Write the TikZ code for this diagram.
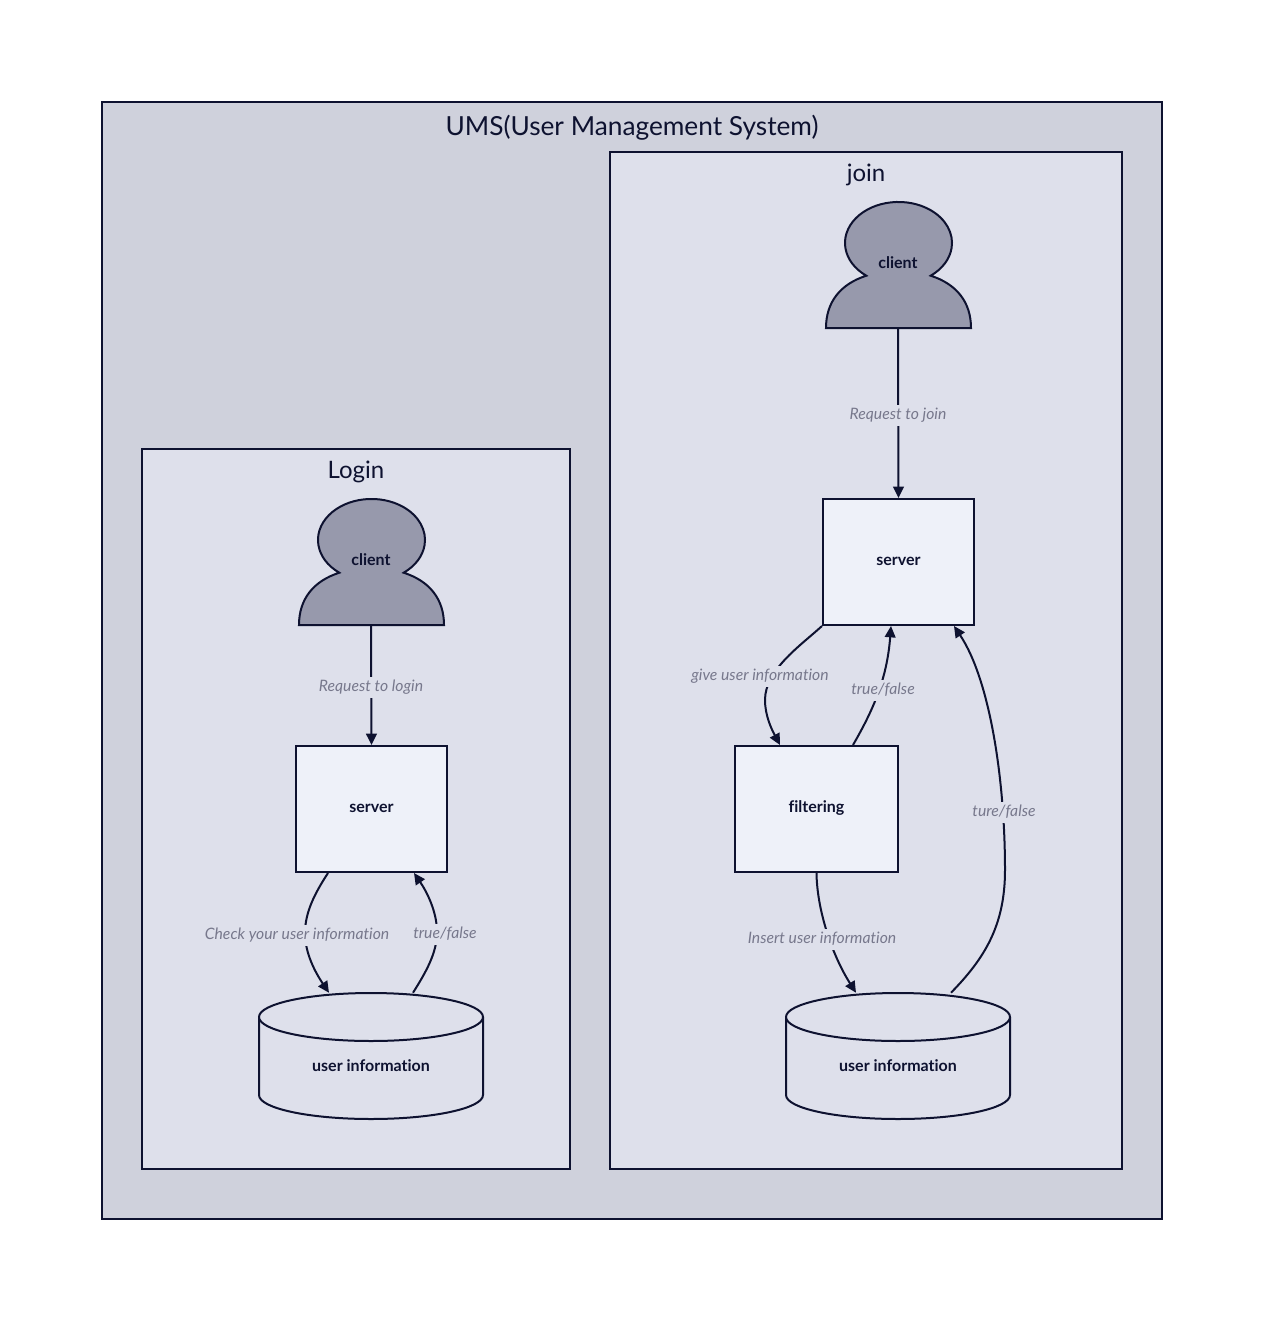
\documentclass[tikz,border=0pt]{standalone}
\usepackage{fontspec}
\setmainfont[Ligatures=NoCommon]{Lato}
\usepackage{xcolor}
\usetikzlibrary{calc,arrows.meta}
\definecolor{inkc}{HTML}{0E1230}
\definecolor{outerc}{HTML}{CFD1DC}
\definecolor{innerc}{HTML}{DEE0EB}
\definecolor{boxc}{HTML}{EEF1F9}
\definecolor{headc}{HTML}{9799AC}
\definecolor{grayc}{HTML}{77788C}
\tikzset{
  frameline/.style={draw=inkc, line width=1.5pt},
  outerbox/.style={frameline, fill=outerc, minimum width=795pt, minimum height=837.75pt},
  innerbox/.style={frameline, fill=innerc},
  srvbox/.style={frameline, fill=boxc, font=\fontsize{12}{14}\bfseries, text=inkc, text height=8.5pt, text depth=2.5pt, minimum height=94.5pt},
  ghost/.style={inner sep=0pt, minimum width=108.75pt, minimum height=94.5pt},
  dbghost/.style={inner sep=0pt, minimum width=168pt, minimum height=94.5pt},
  boldtxt/.style={font=\fontsize{12}{14}\bfseries, text=inkc, text height=8.5pt, text depth=2.5pt, inner sep=1pt},
  titletxt/.style={text=inkc, inner sep=1pt},
  flowtxt/.style={font=\fontsize{11.8}{14}\itshape, text=grayc, fill=innerc, text height=9pt, text depth=3pt, inner sep=2pt},
  flow/.style={draw=inkc, line width=1.5pt, -{Triangle[length=8.5pt,width=8pt]}},
  pics/clientfig/.style={code={
    \draw[frameline, fill=headc, line join=miter] (-72.5,0) .. controls (-72.5,-26) and (-58,-44) .. (-32.2,-52.3)
      arc[start angle=127, end angle=413, x radius=53.5, y radius=41]
      .. controls (58,-44) and (72.5,-26) .. (72.5,0) -- cycle;
  }},
  pics/dbfig/.style={code={
    \draw[frameline, fill=innerc] (-112,-102) -- (-112,-24)
      arc[start angle=180, end angle=0, x radius=112, y radius=24] -- (112,-102);
    \draw[frameline, fill=innerc] (-112,-102) arc[start angle=180, end angle=-180, x radius=112, y radius=24];
  }}
}
\begin{document}
\begin{tikzpicture}[x=0.75pt, y=-0.75pt]
  \useasboundingbox (0,0) rectangle (1264,1321);

  % System frame
  \node[outerbox] (ums) at (632,660) {};
  \node[titletxt, font=\fontsize{19.7}{24}\selectfont] (umstitle) at (632,128) {UMS(User Management System)};

  % Login frame
  \node[innerbox, minimum width=321pt, minimum height=540pt] (login) at (356,809) {};
  \node[titletxt, font=\fontsize{18}{22}\selectfont] (logintitle) at (356,472) {Login};

  % Join frame
  \node[innerbox, minimum width=384pt, minimum height=762.75pt] (join) at (866,660.5) {};
  \node[titletxt, font=\fontsize{18}{22}\selectfont] (jointitle) at (866,175) {join};

  % Login parts
  \pic at (371.5,625) {clientfig};
  \node[ghost] (clientL) at (371,562) {};
  \node[boldtxt] (clientLtxt) at (371,561) {client};
  \node[srvbox, minimum width=113.25pt] (serverL) at (371.5,809) {\raisebox{0.75pt}{server}};
  \pic at (371,1119) {dbfig};
  \node[dbghost] (dbL) at (371,1056) {};
  \node[boldtxt] (dbLtxt) at (371,1067) {user information};

  % Join parts
  \pic at (898.5,328) {clientfig};
  \node[ghost] (clientJ) at (898,265) {};
  \node[boldtxt] (clientJtxt) at (898,264) {client};
  \node[srvbox, minimum width=113.25pt] (serverJ) at (898.5,562) {\raisebox{0.75pt}{server}};
  \node[srvbox, minimum width=122.25pt] (filterJ) at (816.5,809) {\raisebox{0.75pt}{filtering}};
  \pic at (898,1119) {dbfig};
  \node[dbghost] (dbJ) at (898,1056) {};
  \node[boldtxt] (dbJtxt) at (898,1067) {user information};

  % Login connectors
  \draw[flow] (clientL.south) -- (serverL.north);
  \draw[flow] ($(serverL.south)+(-43.5,0)$) .. controls (315,893) and (305,912) .. (305,933)
    .. controls (305,953) and (315,972) .. ($(dbL.north)+(-42,0)$);
  \draw[flow] ($(dbL.north)+(42,0)$) .. controls (426,972) and (437,953) .. (437,932)
    .. controls (437,912) and (427,892) .. ($(serverL.south)+(42.5,0)$);
  \node[flowtxt] (lblreqL) at (371,687.5) {Request to login};
  \node[flowtxt] (lblcheck) at (297,935.5) {Check your user information};
  \node[flowtxt] (lbltrueL) at (445,934.5) {true/false};

  % Join connectors
  \draw[flow] (clientJ.south) -- (serverJ.north);
  \draw[flow] (serverJ.south west) .. controls (800,646) and (765,670) .. (765,700)
    .. controls (765,716) and (772,730) .. ($(filterJ.north)+(-36.5,0)$);
  \draw[flow] ($(filterJ.north)+(36.5,0)$) .. controls (872,712) and (887,680) .. ($(serverJ.south)+(-7.5,0)$);
  \draw[flow] ($(dbJ.north)+(53,0)$) .. controls (985,958) and (1005,925) .. (1005,870)
    .. controls (1005,780) and (990,680) .. ($(serverJ.south)+(55.5,0)$);
  \draw[flow] (filterJ.south) .. controls (817,910) and (832,955) .. ($(dbJ.north)+(-42,0)$);
  \node[flowtxt] (lblreqJ) at (898,415.5) {Request to join};
  \node[flowtxt] (lblgive) at (760,676.5) {give user information};
  \node[flowtxt] (lbltrueJ) at (883,690.5) {true/false};
  \node[flowtxt] (lblture) at (1004,812.5) {ture/false};
  \node[flowtxt] (lblinsert) at (822,939.5) {Insert user information};
\end{tikzpicture}
\end{document}
